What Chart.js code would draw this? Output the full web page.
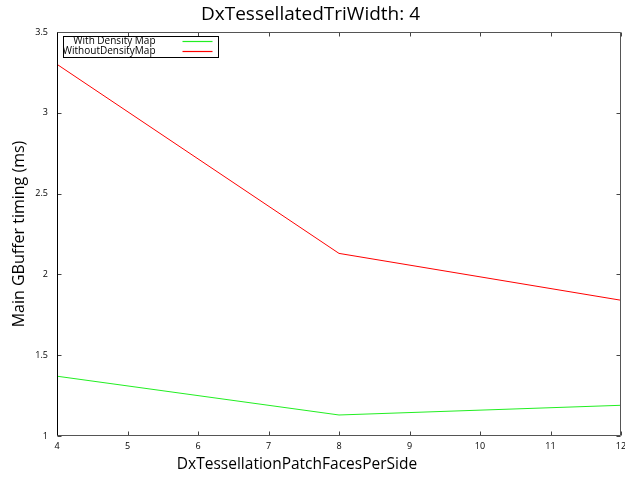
<!DOCTYPE html>
<html>
<head>
<meta charset="utf-8">
<script src="https://cdn.jsdelivr.net/npm/chart.js@4/dist/chart.umd.min.js"></script>
<style>
  html, body { margin: 0; padding: 0; background: #fff; }
  #wrap { width: 625px; height: 479px; }
</style>
</head>
<body>
<div id="wrap"><canvas id="c" width="625" height="479"></canvas></div>
<script>
const patchFaces = [4, 8, 12];
const withDensity = [1.37, 1.13, 1.19];
const withoutDensity = [3.30, 2.13, 1.84];
const seriesLabels = [' With Density Map', 'WithoutDensityMap'];
const chartTitle = 'DxTessellatedTriWidth: 4';
const xTitle = 'DxTessellationPatchFacesPerSide';
const yTitle = 'Main GBuffer timing (ms)';

const FONT = "'Open Sans', 'DejaVu Sans', sans-serif";

const framePlugin = {
  id: 'frame',
  afterDatasetsDraw(chart) {
    const {ctx, chartArea: a, scales} = chart;
    ctx.save();
    const L = Math.round(a.left) + 0.5, R = Math.round(a.right) - 0.5;
    const T = Math.round(a.top) + 0.5, B = Math.round(a.bottom) - 0.5;
    ctx.lineWidth = 1;
    // inward ticks
    ctx.strokeStyle = '#444';
    const tk = 4;
    scales.x.ticks.forEach(t => {
      const x = Math.round(scales.x.getPixelForValue(t.value)) + 0.5;
      ctx.beginPath();
      ctx.moveTo(x, B); ctx.lineTo(x, B - tk);
      ctx.moveTo(x, T); ctx.lineTo(x, T + tk);
      ctx.stroke();
    });
    scales.y.ticks.forEach(t => {
      const y = Math.round(scales.y.getPixelForValue(t.value)) + 0.5;
      ctx.beginPath();
      ctx.moveTo(L, y); ctx.lineTo(L + tk, y);
      ctx.moveTo(R, y); ctx.lineTo(R - tk, y);
      ctx.stroke();
    });
    // frame
    ctx.strokeStyle = '#555';
    ctx.beginPath();
    ctx.moveTo(L, T); ctx.lineTo(R, T); ctx.lineTo(R, B); ctx.lineTo(L, B);
    ctx.stroke();
    ctx.strokeStyle = '#000';
    ctx.beginPath();
    ctx.moveTo(L, T); ctx.lineTo(L, B);
    ctx.stroke();

    // legend box
    const bx = a.left + 6.5, by = a.top + 4.5, bw = 155, bh = 21;
    ctx.fillStyle = '#fff';
    ctx.fillRect(bx, by, bw, bh);
    ctx.strokeStyle = '#000';
    ctx.strokeRect(bx, by, bw, bh);
    ctx.font = "10px " + FONT;
    ctx.textBaseline = 'middle';
    ctx.textAlign = 'right';
    chart.data.datasets.forEach((ds, i) => {
      const yy = by + 5 + i * 10;
      ctx.fillStyle = '#000';
      ctx.fillText(ds.label.trim(), bx + 92, yy);
      ctx.strokeStyle = ds.borderColor;
      ctx.lineWidth = 1.2;
      ctx.beginPath();
      ctx.moveTo(bx + 119, yy); ctx.lineTo(bx + 149, yy);
      ctx.stroke();
    });

    // x axis title
    ctx.fillStyle = '#000';
    ctx.font = "15.5px " + FONT;
    ctx.textAlign = 'center';
    ctx.textBaseline = 'middle';
    ctx.fillText(xTitle, 297, 465);
    ctx.restore();
  }
};

new Chart(document.getElementById('c'), {
  type: 'line',
  data: {
    datasets: [
      {
        label: seriesLabels[0],
        data: patchFaces.map((x, i) => ({x, y: withDensity[i]})),
        borderColor: '#22ee22',
        borderWidth: 1,
        pointRadius: 0,
        tension: 0,
        fill: false
      },
      {
        label: seriesLabels[1],
        data: patchFaces.map((x, i) => ({x, y: withoutDensity[i]})),
        borderColor: '#ff0000',
        borderWidth: 1,
        pointRadius: 0,
        tension: 0,
        fill: false
      }
    ]
  },
  options: {
    responsive: false,
    animation: false,
    devicePixelRatio: 1,
    layout: { padding: { left: 0, right: 4, top: 0, bottom: 0 } },
    plugins: {
      legend: { display: false },
      tooltip: { enabled: false },
      title: {
        display: true,
        text: chartTitle,
        color: '#000',
        font: { family: FONT, size: 19, weight: 'normal', lineHeight: 1.2 },
        padding: { top: 3, bottom: 6.2 }
      }
    },
    scales: {
      x: {
        type: 'linear',
        min: 4, max: 12,
        border: { display: false },
        grid: { display: false, drawTicks: false },
        ticks: {
          stepSize: 1,
          color: '#000',
          padding: 5,
          font: { family: FONT, size: 9 },
          maxRotation: 0
        },
        afterFit(s) { s.height = 43; s.paddingLeft = 0; s.paddingRight = 0; }
      },
      y: {
        type: 'linear',
        min: 1, max: 3.5,
        border: { display: false },
        grid: { display: false, drawTicks: false },
        title: {
          display: true,
          text: yTitle,
          color: '#000',
          font: { family: FONT, size: 16, weight: 'normal', lineHeight: 1.2 },
          padding: { top: 10, bottom: 0 }
        },
        ticks: {
          stepSize: 0.5,
          color: '#000',
          padding: 9,
          font: { family: FONT, size: 9 },
          callback: (v) => String(v)
        },
        afterFit(s) { s.width = 57; s.paddingTop = 0; s.paddingBottom = 0; }
      }
    }
  },
  plugins: [framePlugin]
});
</script>
</body>
</html>
